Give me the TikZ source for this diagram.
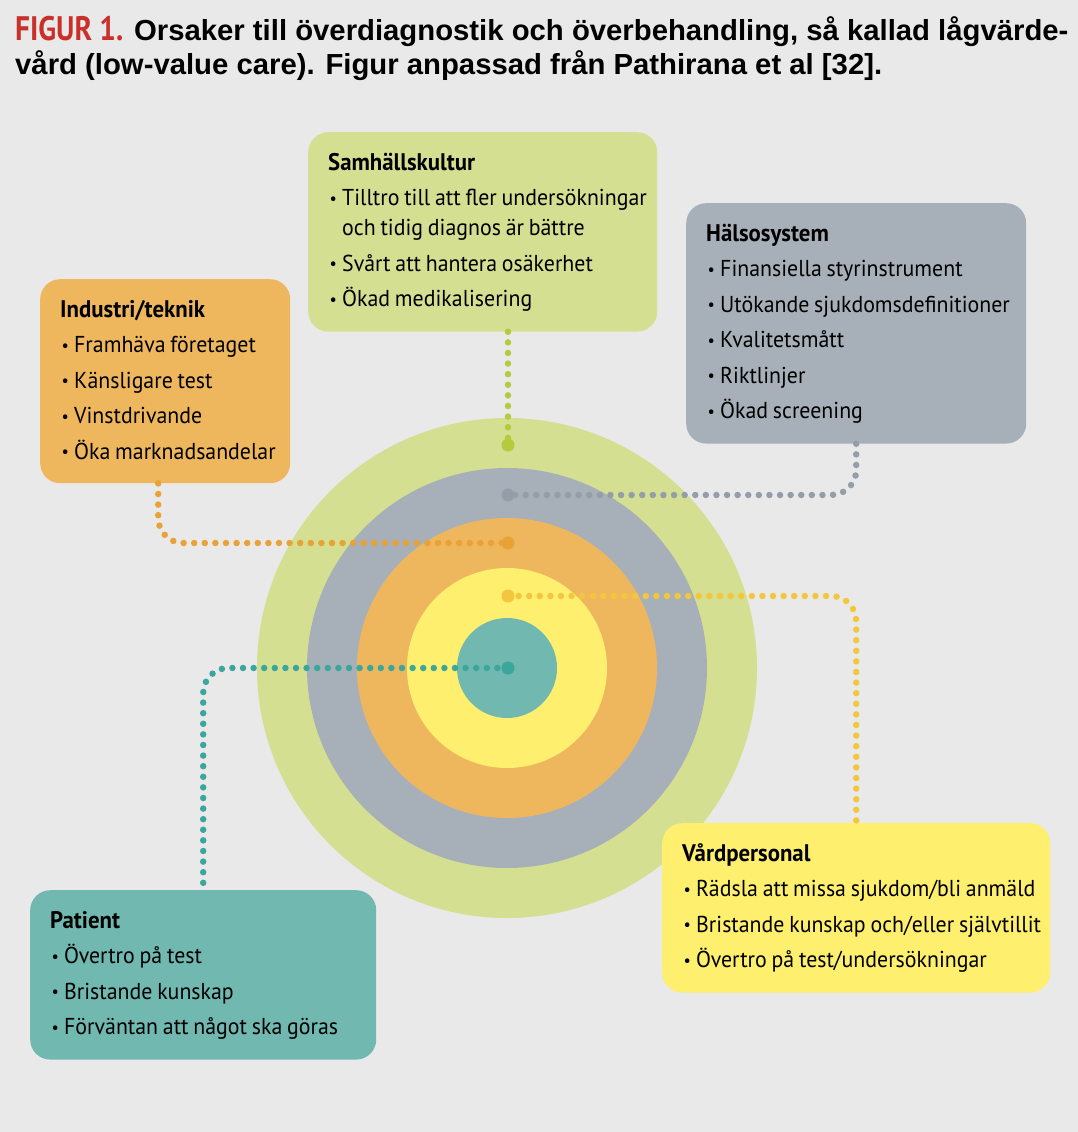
\documentclass[tikz,border=0pt]{standalone}
\usepackage{fontspec}
\setmainfont{PT Sans}[FakeStretch=0.95]
\newfontfamily\figurfont{PT Sans}[FakeStretch=0.86]
\newfontfamily\titelfont{Liberation Sans}[FakeStretch=1.01]
\definecolor{bggray}{HTML}{E9E9E9}
\definecolor{mgreen}{HTML}{D5DF91}
\definecolor{mgreendot}{HTML}{B4CB3E}
\definecolor{mgray}{HTML}{A7B0B8}
\definecolor{mgraydot}{HTML}{939EA8}
\definecolor{morange}{HTML}{EEB75E}
\definecolor{morangedot}{HTML}{E8A236}
\definecolor{myellow}{HTML}{FEEF6E}
\definecolor{myellowdot}{HTML}{F4C63D}
\definecolor{mteal}{HTML}{71B8B1}
\definecolor{mtealdot}{HTML}{3BA69B}
\definecolor{mred}{HTML}{C9302C}
\newcommand\boxfont{\fontsize{23}{30}\selectfont}
\newcommand\rubrik[1]{{\fontsize{24}{30}\selectfont\bfseries\rule{0pt}{18pt}#1}}
\newcommand\pkt[1]{\par\vskip 5.5pt\noindent\makebox[14pt][l]{\hspace{1.5pt}\raisebox{1.5pt}{\fontsize{17}{17}\selectfont\textbullet}}\mbox{\spaceskip=4.8pt\relax #1}}
\newcommand\pktfort[1]{\par\noindent\hspace*{14pt}\mbox{\spaceskip=4.8pt\relax #1}}
\tikzset{box/.style = {rounded corners=20pt, inner xsep=20pt, inner ysep=20pt, anchor=north west,
                       font=\boxfont, execute at end node={\rule[-4pt]{0pt}{4pt}}}}
\tikzset{dots/.style = {line width=6.5pt, line cap=round, dash pattern=on 0pt off 10.6pt,
                        rounded corners=25pt}}

\begin{document}
\begin{tikzpicture}[x=1pt, y=-1pt]
  \fill [bggray] (0, 0) rectangle (1078, 1132);
  \useasboundingbox (0, 0) rectangle (1078, 1132);

  \node [anchor=north west, inner sep=0pt, align=left, font=\titelfont\fontsize{29}{34}\selectfont\bfseries] (titel) at (15, 16)
    {{\figurfont\fontsize{34}{34}\selectfont\color{mred}FIGUR 1.} Orsaker till överdiagnostik och överbehandling, så kallad lågvärde-\\
     vård (low-value care). Figur anpassad från Pathirana et al [32].};

  \coordinate (ctr) at (507, 668);
  \fill [mgreen] (ctr) circle (250pt);
  \fill [mgray] (ctr) circle (200pt);
  \fill [morange] (ctr) circle (150pt);
  \fill [myellow] (ctr) circle (100pt);
  \fill [mteal] (ctr) circle (50pt);

  \node [box, fill=mgreen, text width=309pt] (samhall) at (308, 132)
    {\rubrik{Samhällskultur}
     \pkt{Tilltro till att fler undersökningar}
     \pktfort{och tidig diagnos är bättre}
     \pkt{Svårt att hantera osäkerhet}
     \pkt{Ökad medikalisering}};
  \node [box, fill=mgray, text width=300pt] (halsa) at (686, 203)
    {\rubrik{Hälsosystem}
     \pkt{Finansiella styrinstrument}
     \pkt{Utökande sjukdomsdefinitioner}
     \pkt{Kvalitetsmått}
     \pkt{Riktlinjer}
     \pkt{Ökad screening}};
  \node [box, fill=morange, text width=210pt] (industri) at (40, 279)
    {\rubrik{Industri/teknik}
     \pkt{Framhäva företaget}
     \pkt{Känsligare test}
     \pkt{Vinstdrivande}
     \pkt{Öka marknadsandelar}};
  \node [box, fill=myellow, text width=348pt] (vard) at (662, 823)
    {\rubrik{Vårdpersonal}
     \pkt{Rädsla att missa sjukdom/bli anmäld}
     \pkt{Bristande kunskap och/eller självtillit}
     \pkt{Övertro på test/undersökningar}};
  \node [box, fill=mteal, text width=306pt] (patient) at (30, 890)
    {\rubrik{Patient}
     \pkt{Övertro på test}
     \pkt{Bristande kunskap}
     \pkt{Förväntan att något ska göras}};

  \coordinate (pSamhall) at (508, 445);
  \coordinate (pHalsa) at (508, 495);
  \coordinate (pIndustri) at (508, 543);
  \coordinate (pVard) at (508, 596);
  \coordinate (pPatient) at (508, 668);

  \draw [dots, mgreendot] (samhall.south -| pSamhall) -- (pSamhall);
  \draw [dots, mgraydot] (halsa.south) |- (pHalsa);
  \draw [dots, morangedot] ([xshift=-7pt]industri.south) |- (pIndustri);
  \draw [dots, myellowdot] (pVard) -| (vard.north);
  \draw [dots, mtealdot] (pPatient) -| (patient.north);

  \fill [mgreendot] (pSamhall) circle (6.5pt);
  \fill [mgraydot] (pHalsa) circle (6.5pt);
  \fill [morangedot] (pIndustri) circle (6.5pt);
  \fill [myellowdot] (pVard) circle (6.5pt);
  \fill [mtealdot] (pPatient) circle (6.5pt);
\end{tikzpicture}
\end{document}
